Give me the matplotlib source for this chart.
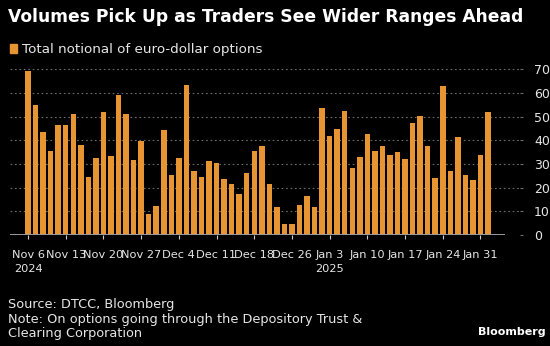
"""
Bloomberg-style bar chart: daily total notional of euro-dollar options.
"""

import pandas as pd
import matplotlib.pyplot as plt

# ---------- data ----------

# business days Nov 6 2024 .. Feb 3 2025 (Christmas and New Year's Day skipped)
holidays = ["2024-12-25", "2025-01-01"]
dates = pd.bdate_range("2024-11-06", "2025-02-03")
dates = dates[~dates.isin(pd.to_datetime(holidays))]

notional = [
    69.3, 54.8, 43.5, 35.5, 46.5, 46.5, 51.3, 37.9, 24.4,
    32.5, 51.8, 33.2, 59.0, 51.3, 31.8, 39.7, 8.7, 12.2,
    44.4, 25.5, 32.5, 63.2, 27.2, 24.6, 31.3, 30.3, 23.7,
    21.5, 17.3, 26.3, 35.6, 37.6, 21.4, 12.0, 4.8, 4.5,
    12.8, 16.5, 12.0, 53.7, 41.8, 44.6, 52.3, 28.3, 33.0,
    42.7, 35.5, 37.7, 33.8, 35.1, 32.1, 47.3, 50.3, 37.7,
    24.2, 63.0, 26.9, 41.3, 25.5, 23.2, 33.8, 52.0,
]

tick_dates = [
    "2024-11-06", "2024-11-13", "2024-11-20", "2024-11-27", "2024-12-04",
    "2024-12-11", "2024-12-18", "2024-12-26", "2025-01-03", "2025-01-10",
    "2025-01-17", "2025-01-24", "2025-01-31",
]
tick_labels = [
    "Nov 6\n2024", "Nov 13", "Nov 20", "Nov 27", "Dec 4", "Dec 11",
    "Dec 18", "Dec 26", "Jan 3\n2025", "Jan 10", "Jan 17", "Jan 24", "Jan 31",
]
y_ticks = [0, 10, 20, 30, 40, 50, 60, 70]

title = "Volumes Pick Up as Traders See Wider Ranges Ahead"
legend_label = "Total notional of euro-dollar options"
footer = ("Source: DTCC, Bloomberg\n"
          "Note: On options going through the Depository Trust &\n"
          "Clearing Corporation")

# ---------- style ----------

BG = "#000000"
BAR = "#E69532"
TEXT = "#E6E6E6"
GRID = "#6E6E6E"

W, H = 550, 346


def fx(px):
    return px / W


def fy(py):
    return 1 - py / H


# ---------- plot ----------

fig = plt.figure(figsize=(W / 100, H / 100), dpi=100, facecolor=BG)

# axes spans x 10..520 px, y 64..235 px
ax = fig.add_axes([fx(10), fy(235), fx(520) - fx(10), fy(64.6) - fy(235)])
ax.set_facecolor(BG)

x = list(range(len(notional)))
ax.bar(x, notional, width=0.73, color=BAR, zorder=3)

ax.set_xlim(-2.39, 65.24)
ax.set_ylim(0, 72)

# dotted grid + baseline
for v in y_ticks[1:]:
    ax.axhline(v, color=GRID, lw=0.8, ls=(0, (1.5, 2.5)), zorder=1)
ax.plot([-2.39, 63.26], [0, 0], color="#9A9A9A", lw=1.4, zorder=4,
        solid_capstyle="butt")

for s in ax.spines.values():
    s.set_visible(False)

# x ticks: weekly, position = index of that business day
tick_pos = [list(dates).index(d) for d in pd.to_datetime(tick_dates)]
ax.set_xticks(tick_pos)
ax.set_xticklabels(tick_labels, fontsize=8.2, color=TEXT,
                   multialignment="center", linespacing=1.45)
ax.tick_params(axis="x", length=3, width=0.8, color="#CFCFCF", pad=8)

ax.yaxis.tick_right()
ax.set_yticks(y_ticks)
ax.set_yticklabels([str(v) for v in y_ticks], fontsize=9, color=TEXT)
ax.tick_params(axis="y", length=2, width=0.8, color=GRID, pad=8)

# ---------- texts ----------

fig.text(fx(8), fy(17), title, fontsize=12.3, fontweight="bold",
         color="white", va="center", ha="left")

fig.patches.append(plt.Rectangle((fx(10), fy(53)), fx(7), fy(44) - fy(53),
                                 transform=fig.transFigure, color=BAR))
fig.text(fx(22), fy(49), legend_label, fontsize=9.7, color=TEXT,
         va="center", ha="left")

fig.text(fx(8), fy(298), footer, fontsize=9.3, color=TEXT,
         va="top", ha="left", linespacing=1.15)
fig.text(fx(546), fy(332), "Bloomberg", fontsize=8, fontweight="bold",
         color="white", va="center", ha="right")

plt.savefig("out.png", dpi=100, facecolor=BG)
